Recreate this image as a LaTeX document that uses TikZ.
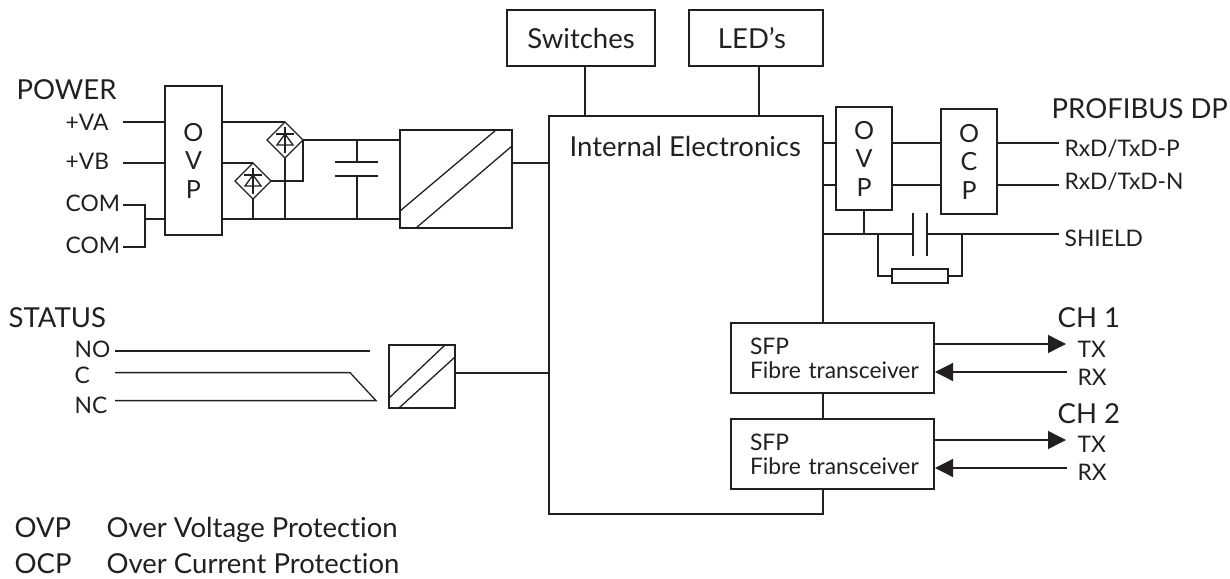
\documentclass[tikz,border=0pt]{standalone}
\usepackage{fontspec}
\setmainfont[Ligatures={TeX,NoCommon}]{Lato}
\usetikzlibrary{shapes.geometric,arrows.meta}
\definecolor{ink}{HTML}{231F20}
\newcommand{\bigtxt}{\fontsize{27.5}{30}\selectfont}
\newcommand{\smalltxt}{\fontsize{22.8}{24}\selectfont}
\tikzset{
    box/.style={draw,inner sep=0pt,outer sep=0pt,align=center,font=\bigtxt},
    lettersbox/.style={box,font=\fontsize{25}{28.5}\selectfont},
    sfpbox/.style={box,fill=white,minimum width=203,minimum height=70,text width=165,align=left,font=\smalltxt},
    bigtext/.style={anchor=base west,inner sep=0pt,font=\bigtxt},
    smalltext/.style={anchor=base west,inner sep=0pt,font=\smalltxt},
    bridge/.style={draw,diamond,aspect=1,minimum width=36,minimum height=36,inner sep=0pt,outer sep=0pt},
    bridgediode/.pic={
        \draw (0,-13) -- (0,13);
        \draw (-9,-6) -- (9,-6);
        \draw (0,-6) -- (8,5) -- (-8,5) -- cycle;
    },
    fibre/.style={-{Triangle[length=18pt,width=18pt]}}
}
\begin{document}
\begin{tikzpicture}[x=1pt,y=-1pt,line width=1.3pt,color=ink,text=ink]
    \useasboundingbox (0,0) rectangle (1230,578);

    % boxes
    \node[lettersbox,minimum width=57,minimum height=149] (ovpL) at (193.5,160.5) {O\\V\\P};
    \node[lettersbox,minimum width=56,minimum height=103] (ovpR) at (864,158.5) {O\\V\\P};
    \node[lettersbox,minimum width=56,minimum height=105] (ocp) at (969,161.5) {O\\C\\P};
    \node[box,minimum width=148,minimum height=56] (switches) at (581,38) {Switches};
    \node[box,minimum width=134,minimum height=56] (leds) at (756,38) {LED's\hspace*{8pt}};
    \node[box,minimum width=274,minimum height=398] (main) at (686,315) {};
    \node[bigtext] (mainlabel) at (569,156) {Internal Electronics};
    \node[box,minimum width=112,minimum height=98] (dcdc) at (456,179) {};
    \node[box,minimum width=66,minimum height=63] (relay) at (422,376.5) {};
    \node[sfpbox] (sfpA) at (832.5,358) {SFP\\Fibre~transceiver};
    \node[sfpbox] (sfpB) at (832.5,454) {SFP\\Fibre~transceiver};
    \node[bridge] (brA) at (285,140) {};
    \node[bridge] (brB) at (253,181) {};
    \node[draw,inner sep=0pt,outer sep=0pt,minimum width=56,minimum height=14] (res) at (920,276) {};
    \pic at (brA) {bridgediode};
    \pic at (brB) {bridgediode};

    % texts
    \node[bigtext] (power) at (16,99) {POWER};
    \node[smalltext] (va) at (65,130) {+VA};
    \node[smalltext] (vb) at (65,169) {+VB};
    \node[smalltext] (comA) at (65,211) {COM};
    \node[smalltext] (comB) at (65,253) {COM};
    \node[bigtext] (status) at (8,327) {STATUS};
    \node[smalltext] (no) at (74,357) {NO};
    \node[smalltext] (c) at (74,383) {C};
    \node[smalltext] (nc) at (74,413) {NC};
    \node[bigtext] (profibus) at (1051,118) {PROFIBUS DP};
    \node[smalltext] (rxtxP) at (1064,156) {RxD/TxD-P};
    \node[smalltext] (rxtxN) at (1064,189) {RxD/TxD-N};
    \node[smalltext] (shield) at (1064,246) {SHIELD};
    \node[bigtext] (chA) at (1057,327) {CH 1};
    \node[smalltext] (txA) at (1077,357) {TX};
    \node[smalltext] (rxA) at (1077,385) {RX};
    \node[bigtext] (chB) at (1057,423) {CH 2};
    \node[smalltext] (txB) at (1077,452) {TX};
    \node[smalltext] (rxB) at (1077,480) {RX};
    \node[bigtext] (ovpkey) at (14,537) {OVP};
    \node[bigtext] (ovptxt) at (106,537) {Over Voltage Protection};
    \node[bigtext] (ocpkey) at (14,573) {OCP};
    \node[bigtext] (ocptxt) at (106,573) {Over Current Protection};

    % power input
    \coordinate (vaend) at (123,122);
    \coordinate (vbend) at (123,163);
    \coordinate (comAend) at (123,205);
    \coordinate (comBend) at (123,247);
    \coordinate (rail) at (145,219);
    \coordinate (dcin) at (400,140);
    \draw (vaend) -- (vaend -| ovpL.west);
    \draw (vbend) -- (vbend -| ovpL.west);
    \draw (comAend) -| (rail) |- (comBend);
    \draw (rail) -- (rail -| ovpL.west);
    \draw (ovpL.east |- vaend) -- (brA.north);
    \draw (ovpL.east |- vbend) -- (brB.north);
    \draw (brA.east) -- (dcin);
    \draw (brB.east) -| (brA.east);
    \draw (brA.south) -- (brA.south |- rail);
    \draw (brB.south) -- (brB.south |- rail);
    \draw (ovpL.east |- rail) -- (dcdc.west |- rail);

    % capacitor
    \coordinate (capA) at (357,162);
    \coordinate (capB) at (357,176);
    \draw (capA |- dcin) -- (capA);
    \draw (capB) -- (capB |- rail);
    \draw ([xshift=-22pt]capA) -- ([xshift=21pt]capA);
    \draw ([xshift=-22pt]capB) -- ([xshift=21pt]capB);

    % converters
    \draw ([yshift=17pt]dcdc.south west) -- ([xshift=-16pt]dcdc.north east);
    \draw ([xshift=16pt]dcdc.south west) -- ([yshift=-16pt]dcdc.north east);
    \draw ([yshift=10pt]relay.south west) -- ([xshift=-10pt]relay.north east);
    \draw ([xshift=10pt]relay.south west) -- ([yshift=-12pt]relay.north east);
    \coordinate (dcout) at (512,163);
    \coordinate (relayout) at (455,373);
    \draw (dcout) -- (dcout -| main.west);
    \draw (relayout) -- (relayout -| main.west);

    % status
    \coordinate (noend) at (115,351);
    \coordinate (cend) at (115,372.6);
    \coordinate (ncend) at (115,400.6);
    \coordinate (cbend) at (350,372.6);
    \coordinate (ncpoint) at (376,400.6);
    \draw (noend) -- (370,351);
    \draw (cend) -- (cbend) -- (ncpoint) -- (ncend);

    % main box to the top
    \coordinate (swdrop) at (585,66);
    \coordinate (leddrop) at (759,66);
    \draw (swdrop) -- (swdrop |- main.north);
    \draw (leddrop) -- (leddrop |- main.north);

    % profibus
    \coordinate (rxtxPend) at (1059,143);
    \coordinate (rxtxNend) at (1059,185);
    \coordinate (shieldend) at (1059,234);
    \draw (main.east |- rxtxPend) -- (ovpR.west |- rxtxPend);
    \draw (main.east |- rxtxNend) -- (ovpR.west |- rxtxNend);
    \draw (ovpR.east |- rxtxPend) -- (ocp.west |- rxtxPend);
    \draw (ovpR.east |- rxtxNend) -- (ocp.west |- rxtxNend);
    \draw (ocp.east |- rxtxPend) -- (rxtxPend);
    \draw (ocp.east |- rxtxNend) -- (rxtxNend);

    % shield
    \coordinate (plateA) at (913,234);
    \coordinate (plateB) at (927,234);
    \draw (main.east |- shieldend) -- (plateA);
    \draw (plateB) -- (shieldend);
    \draw (ovpR.south) -- (ovpR.south |- shieldend);
    \draw ([yshift=21pt]plateA) -- ([yshift=-22pt]plateA);
    \draw ([yshift=21pt]plateB) -- ([yshift=-22pt]plateB);
    \draw (878,234) |- (res.west);
    \draw (962,234) |- (res.east);

    % fibre
    \coordinate (txAend) at (1066,344);
    \coordinate (rxAend) at (1067,372);
    \coordinate (txBend) at (1066,440);
    \coordinate (rxBend) at (1067,468);
    \draw[fibre] (sfpA.east |- txAend) -- (txAend);
    \draw[fibre] (rxAend) -- ([xshift=1pt]sfpA.east |- rxAend);
    \draw[fibre] (sfpB.east |- txBend) -- (txBend);
    \draw[fibre] (rxBend) -- ([xshift=1pt]sfpB.east |- rxBend);
\end{tikzpicture}
\end{document}
